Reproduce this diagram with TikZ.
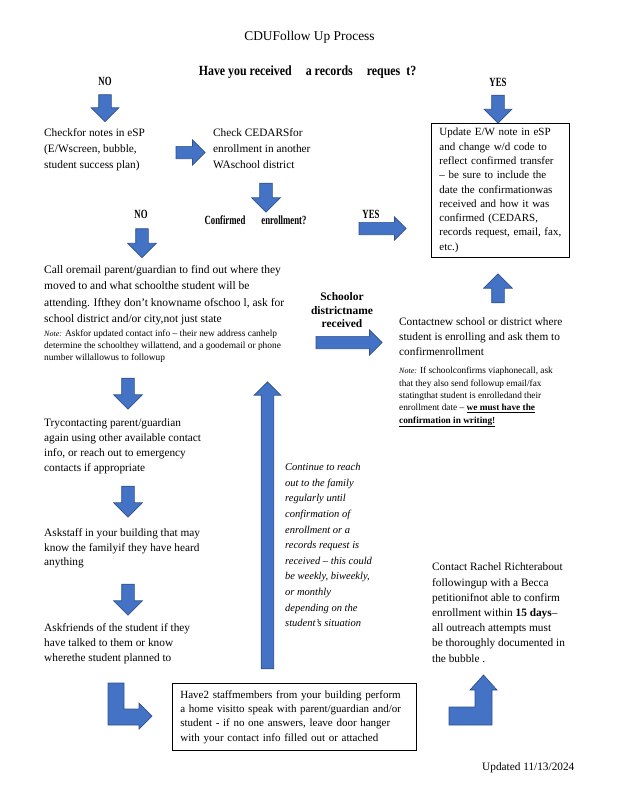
\documentclass[tikz,border=0pt]{standalone}
\usepackage{fontspec}
\setmainfont{Liberation Serif}
\newfontfamily\headfont[FakeStretch=0.85]{Liberation Serif}
\newfontfamily\labelfont[FakeStretch=0.7]{Liberation Serif}
\usepackage{tikz}
\usetikzlibrary{shapes.arrows,positioning}
\usepackage{xcolor}
\definecolor{ArrowBlue}{RGB}{68,114,196}
\definecolor{ArrowEdge}{RGB}{47,82,143}

\begin{document}
\begin{tikzpicture}[x=1pt,y=-1pt,
    every node/.style={inner sep=0pt},
    bodytext/.style={anchor=north west,align=left,font=\fontsize{11.3}{15.2}\selectfont},
    notetext/.style={anchor=north west,align=left,font=\fontsize{9.3}{12.3}\selectfont},
    boxtext/.style={draw,line width=0.8pt,anchor=north west,align=left,
      font=\fontsize{11}{14.3}\selectfont,inner xsep=8pt},
    yesno/.style={font=\labelfont\bfseries\fontsize{12.5}{14}\selectfont},
    blockarr/.style={single arrow,draw=ArrowEdge,fill=ArrowBlue,line width=0.7pt,
      single arrow head extend=7.5pt,inner xsep=0pt,inner ysep=6pt,minimum width=0pt},
    downarr/.style={blockarr,rotate=-90},
    uparr/.style={blockarr,rotate=90},
    rightarr/.style={blockarr,single arrow head extend=6.5pt,inner ysep=5.8pt},
    lshape/.style={draw=ArrowEdge,fill=ArrowBlue,line width=0.7pt,line join=miter}]
  \useasboundingbox (0,0) rectangle (618,800);

  % heading
  \node (title) at (309.5,37.5) {\fontsize{13.4}{15}\selectfont CDUFollow Up Process};
  \node (question) at (307.5,72.5)
    {\headfont\bfseries\fontsize{14}{16}\selectfont Have you received\hspace{14pt}a records\hspace{14pt}reques\hspace{6pt}t?};
  \node[yesno] (noA) at (105,81) {NO};
  \node[yesno] (yesA) at (498,82) {YES};
  \node[downarr,minimum height=27pt] (arrNoA) at (105,105) {};
  \node[downarr,minimum height=28pt] (arrYesA) at (498,106) {};

  % first checks
  \node[bodytext,font=\fontsize{11.3}{16}\selectfont] (checkesp) at (44,128.3)
    {Checkfor notes in eSP\\(E/Wscreen, bubble,\\student success plan)};
  \node[rightarr,minimum height=29pt] (arrEsp) at (187.5,152.5) {};
  \node[bodytext,font=\fontsize{11.3}{16}\selectfont] (checkcedars) at (213,128.3)
    {Check CEDARSfor\\enrollment in another\\WAschool district};
  \node[downarr,minimum height=29pt,single arrow head extend=8pt] (arrCedars) at (266,194.5) {};
  \node[yesno] (confirmed) at (255.5,220) {Confirmed\hspace{16pt}enrollment?};
  \node[yesno] (noB) at (141,214.5) {NO};
  \node[downarr,minimum height=29pt,single arrow head extend=8pt] (arrNoB) at (142,240) {};
  \node[yesno] (yesB) at (371,214) {YES};
  \node[rightarr,minimum height=47pt,single arrow head extend=5.5pt] (arrYesB) at (379.5,228.5) {};

  % confirmed branch
  \node[boxtext,minimum width=138pt,minimum height=134pt,text width=122pt] (update) at (431,123)
    {Update E/W note in eSP\\and change w/d code to\\reflect confirmed transfer\\– be sure to include the\\date the confirmationwas\\received and how it was\\confirmed (CEDARS,\\records request, email, fax,\\etc.)};
  \node[uparr,minimum height=29pt,single arrow head extend=8pt] (arrUpdate) at (498,291.5) {};

  % contact family
  \node[bodytext,font=\fontsize{11.5}{16.3}\selectfont] (callparent) at (44,265.3)
    {Call oremail parent/guardian to find out where they\\moved to and what schoolthe student will be\\attending. Ifthey don’t knowname ofschoo l, ask for\\school district and/or city,not just state};
  \node[notetext,font=\fontsize{9.4}{12}\selectfont] (callnote) at (44,329.5)
    {\textit{\fontsize{8}{10}\selectfont Note:} Askfor updated contact info – their new address canhelp\\determine the schoolthey willattend, and a goodemail or phone\\number willallowus to followup};
  \node[align=center,font=\bfseries\fontsize{11.5}{13.3}\selectfont,anchor=north] (schoolname) at (342,292.7)
    {Schoolor\\districtname\\received};
  \node[rightarr,minimum height=66pt] (arrSchool) at (346,342.5) {};
  \node[bodytext] (contactschool) at (399,317.3)
    {Contactnew school or district where\\student is enrolling and ask them to\\confirmenrollment};
  \node[notetext] (contactnote) at (399,367.2)
    {\textit{\fontsize{8}{10}\selectfont Note:} If schoolconfirms viaphonecall, ask\\that they also send followup email/fax\\statingthat student is enrolledand their\\enrollment date – \underline{\textbf{we must have the}}\\\underline{\textbf{confirmation in writing!}}};

  % left column
  \node[downarr,minimum height=31pt,single arrow head extend=8pt] (arrCall) at (128,390.5) {};
  \node[bodytext] (trycontact) at (44,418.3)
    {Trycontacting parent/guardian\\again using other available contact\\info, or reach out to emergency\\contacts if appropriate};
  \node[downarr,minimum height=31pt,single arrow head extend=8pt] (arrTry) at (128,498.5) {};
  \node[bodytext,font=\fontsize{11.3}{14.6}\selectfont] (askstaff) at (44,528.3)
    {Askstaff in your building that may\\know the familyif they have heard\\anything};
  \node[downarr,minimum height=31pt,single arrow head extend=8pt] (arrStaff) at (128,596.5) {};
  \node[bodytext] (askfriends) at (44,623.3)
    {Askfriends of the student if they\\have talked to them or know\\wherethe student planned to};

  % loop back
  \node[uparr,minimum height=287pt,single arrow head extend=7pt] (arrBig) at (267.5,528.5) {};
  \node[bodytext,font=\itshape\fontsize{10.5}{15.6}\selectfont] (continue) at (285,463.3)
    {Continue to reach\\out to the family\\regularly until\\confirmation of\\enrollment or a\\records request is\\received – this could\\be weekly, biweekly,\\or monthly\\depending on the\\student’s situation};

  % home visit
  \draw[lshape] (108,683) -- (124,683) -- (124,709) -- (139,709) -- (139,703)
    -- (152,716) -- (139,729) -- (139,725) -- (108,725) -- cycle;
  \node[boxtext,minimum width=244pt,minimum height=67pt,text width=228pt] (homevisit) at (172,683)
    {Have2 staffmembers from your building perform\\a home visitto speak with parent/guardian and/or\\student - if no one answers, leave door hanger\\with your contact info filled out or attached};
  \draw[lshape] (449,707) -- (475,707) -- (475,690) -- (470,690) -- (483.5,675)
    -- (497,690) -- (492,690) -- (492,725) -- (449,725) -- cycle;
  \node[bodytext] (rachel) at (432,562.8)
    {Contact Rachel Richterabout\\followingup with a Becca\\petitionifnot able to confirm\\enrollment within \textbf{15 days}–\\all outreach attempts must\\be thoroughly documented in\\the bubble .};

  \node[bodytext] (updated) at (482,762.8) {Updated 11/13/2024};
\end{tikzpicture}
\end{document}
